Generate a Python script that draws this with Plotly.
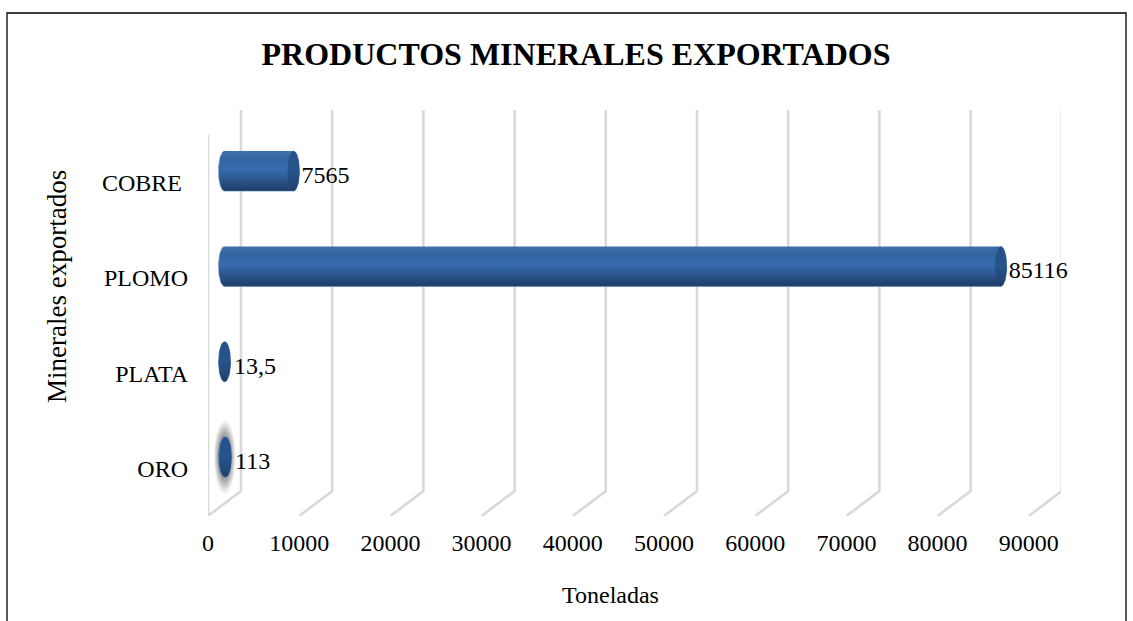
import numpy as np
import plotly.graph_objects as go

categories = ["ORO", "PLATA", "PLOMO", "COBRE"]
toneladas = [113, 13.5, 85116, 7565]
value_labels = ["113", "13,5", "85116", "7565"]
x_ticks = [0, 10000, 20000, 30000, 40000, 50000, 60000, 70000, 80000, 90000]
x_tick_text = [str(t) for t in x_ticks]
tick_names = ["ORO", "PLATA", "PLOMO", "COBRE\u00a0"]

W, H = 1133, 621
L, R, T, B = 208, 1061, 100, 516
x_max = 93531.0
y_min, y_max = -0.619, 3.746
px_x = x_max / (R - L)
px_y = (y_max - y_min) / (B - T)

DEPTH_X = 33 * px_x
DEPTH_Y = 25 * px_y
WALL_TOP = (B - 135) * px_y + y_min
START = 16.5 * px_x
RX = 6 * px_x
RY = 20 * px_y


def ppx(xp):
    return (xp - L) / (R - L)


def ppy(yp):
    return (B - yp) / (B - T)


fig = go.Figure()

gx, gy = [], []
for t in x_ticks:
    gx += [t + DEPTH_X, t + DEPTH_X, t, None]
    gy += [WALL_TOP + DEPTH_Y, y_min + DEPTH_Y, y_min, None]
gx += [0, 0, None]
gy += [y_min, WALL_TOP, None]
fig.add_trace(go.Scatter(x=gx, y=gy, mode="lines", line=dict(color="#d9d9d9", width=2.6),
                         cliponaxis=False, hoverinfo="skip", showlegend=False))

theta = np.linspace(0, 2 * np.pi, 60)

# soft shadow around ORO
for k, op in zip([1.85, 1.7, 1.55, 1.4, 1.25, 1.1], [0.08, 0.12, 0.16, 0.2, 0.25, 0.3]):
    fig.add_trace(go.Scatter(
        x=START + toneladas[0] - 0.8 * px_x + 1.0 * RX * k * np.cos(theta),
        y=0.0 + RY * k * np.sin(theta),
        mode="lines", fill="toself", line=dict(width=0),
        fillcolor=f"rgba(110,110,110,{op})", hoverinfo="skip", showlegend=False))

body_scale = [[0.0, "#1f3c66"], [0.18, "#264c7e"], [0.55, "#366cb0"],
              [0.8, "#32649f"], [1.0, "#3f72ad"]]
cap_scale = [[0.0, "#1f3f6c"], [0.5, "#27548b"], [1.0, "#26508a"]]

for i, v in enumerate(toneladas):
    x0, x1 = START, START + v
    up = np.linspace(np.pi / 2, -np.pi / 2, 40)
    bx = np.concatenate([x1 + RX * np.cos(up), x0 - RX * np.cos(up[::-1])])
    by = np.concatenate([i + RY * np.sin(up), i + RY * np.sin(up[::-1])])
    fig.add_trace(go.Scatter(
        x=bx, y=by, mode="lines", fill="toself", line=dict(color="#5b86b8", width=0.6),
        fillgradient=dict(type="vertical", colorscale=body_scale),
        hoverinfo="skip", showlegend=False))
    fig.add_trace(go.Scatter(
        x=x1 + RX * np.cos(theta), y=i + RY * np.sin(theta), mode="lines", fill="toself",
        line=dict(width=0),
        fillgradient=dict(type="vertical", colorscale=cap_scale),
        hoverinfo="skip", showlegend=False))

fig.add_trace(go.Scatter(
    x=[START + v + RX + (3.5 if v < 1000 else 2) * px_x for v in toneladas],
    y=[i - 6 * px_y for i in range(len(toneladas))],
    text=value_labels, mode="text", textposition="middle right",
    textfont=dict(family="Liberation Serif", size=24, color="black"),
    cliponaxis=False, hoverinfo="skip", showlegend=False))

fig.update_layout(
    width=W, height=H, autosize=False,
    margin=dict(l=L, r=W - R, t=T, b=H - B),
    paper_bgcolor="white", plot_bgcolor="white",
    font=dict(family="Liberation Serif", color="black", size=24),
    showlegend=False,
    title=dict(text="<b>PRODUCTOS MINERALES EXPORTADOS</b>", x=576 / W, xanchor="center",
               y=1 - 54 / H, yanchor="middle",
               font=dict(family="Liberation Serif", size=32, color="black")),
    xaxis=dict(range=[0, x_max], tickmode="array", tickvals=x_ticks, ticktext=x_tick_text,
               showgrid=False, zeroline=False, showline=False, ticks="", ticklabelstandoff=10,
               tickangle=0, tickfont=dict(family="Liberation Serif", size=24, color="black"),
               automargin=False),
    yaxis=dict(range=[y_min, y_max], tickmode="array", tickvals=[i - 11.5 * px_y for i in range(4)],
               ticktext=tick_names, showgrid=False, zeroline=False, showline=False, ticks="",
               ticklabelstandoff=19,
               tickfont=dict(family="Liberation Serif", size=24, color="black"), automargin=False),
    annotations=[
        dict(text="Toneladas", x=ppx(610), y=ppy(595), xref="paper", yref="paper", showarrow=False,
             xanchor="center", yanchor="middle",
             font=dict(family="Liberation Serif", size=24, color="black")),
        dict(text="Minerales exportados", x=ppx(57), y=ppy(287), xref="paper", yref="paper",
             showarrow=False, textangle=-90, xanchor="center", yanchor="middle",
             font=dict(family="Liberation Serif", size=27, color="black")),
    ],
)

fig.add_shape(type="path",
              path=f"M {ppx(7)} {ppy(630)} L {ppx(7)} {ppy(13)} L {ppx(1126)} {ppy(13)} L {ppx(1126)} {ppy(630)}",
              xref="paper", yref="paper", line=dict(color="black", width=1.3))

fig.write_html("out.html", config=dict(displayModeBar=False),
               post_script="document.body.style.margin='0';")
